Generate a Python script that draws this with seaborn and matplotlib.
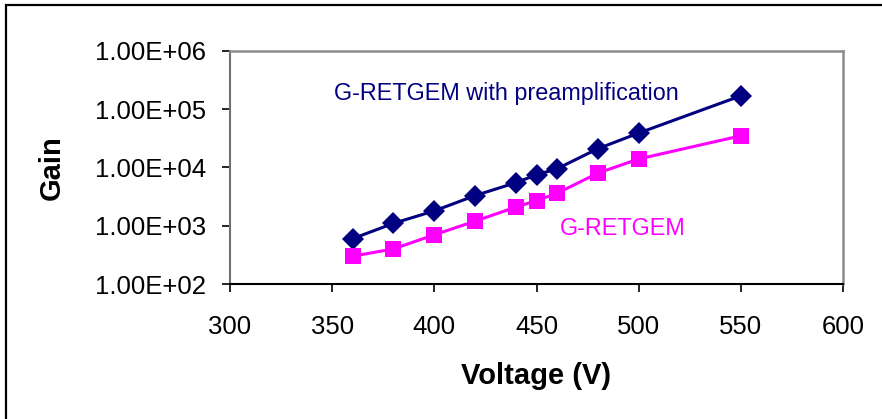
import numpy as np
import pandas as pd
import seaborn as sns
import matplotlib.pyplot as plt
from matplotlib.patches import Rectangle

# gain vs voltage
voltage = [360, 380, 400, 420, 440, 450, 460, 480, 500, 550]
gain_preamp = [600, 1100, 1800, 3300, 5500, 7500, 9500, 21000, 39000, 170000]
gain_plain = [300, 400, 700, 1200, 2100, 2700, 3600, 8000, 14000, 35000]

x_ticks = [300, 350, 400, 450, 500, 550, 600]
y_ticks = [1e2, 1e3, 1e4, 1e5, 1e6]
y_tick_labels = ["1.00E+02", "1.00E+03", "1.00E+04", "1.00E+05", "1.00E+06"]

df = pd.DataFrame({"Voltage": voltage, "preamp": gain_preamp, "plain": gain_plain})

sns.set_style("white")
plt.rcParams["font.family"] = ["Liberation Sans", "DejaVu Sans"]
plt.rcParams["text.color"] = "black"
plt.rcParams["axes.labelcolor"] = "black"
plt.rcParams["xtick.color"] = "black"
plt.rcParams["ytick.color"] = "black"

fig = plt.figure(figsize=(8.82, 4.19), dpi=100)
ax = fig.add_axes([230 / 882, 1 - 284 / 419, (843 - 230) / 882, (284 - 51) / 419])

sns.lineplot(data=df, x="Voltage", y="preamp", ax=ax, color="#000080", lw=2.2,
             marker="D", markersize=11, markeredgewidth=0, zorder=3)
sns.lineplot(data=df, x="Voltage", y="plain", ax=ax, color="#FF00FF", lw=2.2,
             marker="s", markersize=11, markeredgewidth=0, zorder=3)

ax.set_yscale("log")
ax.set_xlim(300, 600)
ax.set_ylim(1e2, 1e6)
ax.set_xticks(x_ticks)
ax.set_yticks(y_ticks, y_tick_labels)
ax.minorticks_off()
ax.tick_params(axis="both", direction="out", length=6, width=1.2, color="black",
               labelsize=18.5, labelcolor="black", bottom=True, left=True)
ax.tick_params(axis="x", pad=16)
ax.tick_params(axis="y", pad=11)

for side in ["top", "right"]:
    ax.spines[side].set_color("#8c8c8c")
    ax.spines[side].set_linewidth(1.8)
ax.spines["left"].set_color("#707070")
ax.spines["left"].set_linewidth(1.5)
ax.spines["bottom"].set_color("black")
ax.spines["bottom"].set_linewidth(1.5)

ax.set_xlabel("Voltage (V)", fontsize=21, fontweight="bold", va="center")
ax.xaxis.set_label_coords(0.5, -0.395)
ax.set_ylabel("Gain", fontsize=21, fontweight="bold", va="center")
ax.yaxis.set_label_coords(-0.29, 0.5)

ax.text(351, 1.9e5, "G-RETGEM with preamplification", color="#000080",
        fontsize=16.8, va="center", ha="left")
ax.text(461.5, 900, "G-RETGEM", color="#FF00FF", fontsize=16.8, va="center", ha="left")

# chart area border (only top and left show in the reference)
fig.patches.append(Rectangle((6 / 882, -0.2), 1.2, 1.2 - 5 / 419,
                             transform=fig.transFigure, fill=False,
                             edgecolor="black", lw=1.6))

fig.savefig("out.png", dpi=100)
